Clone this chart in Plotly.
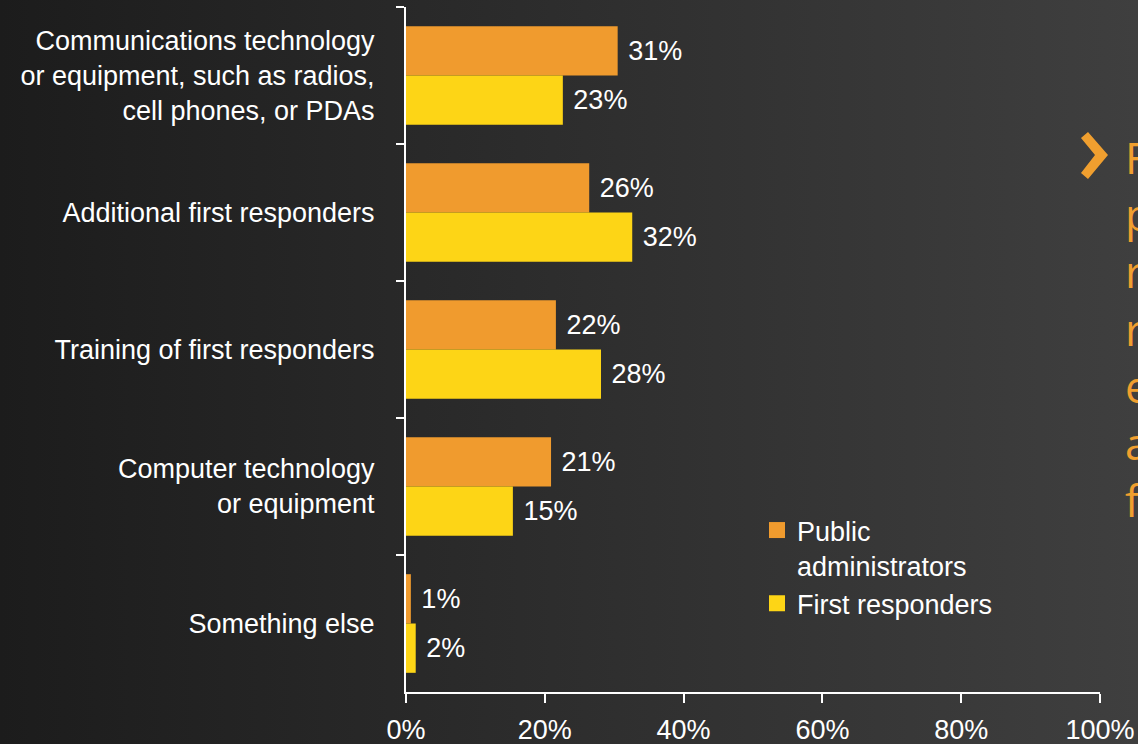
import base64
import plotly.graph_objects as go

# chart values
categories = [
    "Communications technology<br>or equipment, such as radios,<br>cell phones, or PDAs",
    "Additional first responders",
    "Training of first responders",
    "Computer technology<br>or equipment",
    "Something else",
]
public_admin = [30.5, 26.4, 21.6, 20.9, 0.7]
public_admin_labels = ["31%", "26%", "22%", "21%", "1%"]
first_resp = [22.6, 32.6, 28.1, 15.4, 1.4]
first_resp_labels = ["23%", "32%", "28%", "15%", "2%"]
series_names = ["Public<br>administrators", "First responders"]
side_letters = ["F", "p", "r", "r", "e", "a", "f"]

W, H = 1138, 744
L, R, T, B = 406, 38, 7, 52
PW, PH = W - L - R, H - T - B

ORANGE = "#F09B2E"
YELLOW = "#FDD516"
TEXT_ORANGE = "#F09F2F"
FONT = "Arial, Liberation Sans, sans-serif"


def px(x):
    return (x - L) / PW


def py(y):
    return (H - B - y) / PH


svg = (
    f"<svg xmlns='http://www.w3.org/2000/svg' width='{W}' height='{H}' "
    f"viewBox='0 0 {W} {H}' preserveAspectRatio='none'>"
    "<defs><linearGradient id='g' x1='0' y1='0' x2='1' y2='0'>"
    "<stop offset='0' stop-color='#1c1c1c'/><stop offset='1' stop-color='#3f3f3f'/>"
    "</linearGradient></defs>"
    f"<rect width='{W}' height='{H}' fill='url(#g)'/></svg>"
)
bg_src = "data:image/svg+xml;base64," + base64.b64encode(svg.encode()).decode()

fig = go.Figure()

for name, vals, labels, color in [
    (series_names[0], public_admin, public_admin_labels, ORANGE),
    (series_names[1], first_resp, first_resp_labels, YELLOW),
]:
    fig.add_trace(go.Bar(
        y=categories, x=vals, orientation="h", name=name,
        marker=dict(color=color, line=dict(width=0)),
        text=["\u00a0" + t for t in labels], textposition="outside",
        textfont=dict(color="white", size=27, family=FONT),
        constraintext="none", cliponaxis=False, showlegend=False,
    ))
    # legend entry with a bigger square
    fig.add_trace(go.Scatter(
        x=[None], y=[None], mode="markers", name=name,
        marker=dict(symbol="square", size=18, color=color),
    ))

# chevron bullet
chev = [(1081, 138), (1088, 132), (1108, 155), (1088, 179), (1081, 173), (1095, 155)]
path = "M " + " L ".join(f"{px(x):.5f},{py(y):.5f}" for x, y in chev) + " Z"

fig.update_layout(
    width=W, height=H, autosize=False,
    margin=dict(l=L, r=R, t=T, b=B, autoexpand=False),
    paper_bgcolor="#2b2b2b", plot_bgcolor="rgba(0,0,0,0)",
    font=dict(family=FONT, size=27, color="white"),
    barmode="group", bargap=0.28, bargroupgap=0,
    showlegend=True,
    legend=dict(
        x=px(757), y=py(506), xanchor="left", yanchor="top",
        bgcolor="rgba(0,0,0,0)", font=dict(size=27, color="white"),
        valign="top", tracegroupgap=0,
    ),
    xaxis=dict(
        range=[0, 100], dtick=20, ticksuffix="%", showgrid=False, zeroline=False,
        showline=True, linecolor="white", linewidth=2, automargin=False,
        ticks="outside", ticklen=9, tickwidth=2, tickcolor="white",
        ticklabelstandoff=4,
        tickfont=dict(size=27, color="white"),
    ),
    yaxis=dict(
        autorange="reversed", showgrid=False, zeroline=False,
        showline=True, linecolor="white", linewidth=2, automargin=False,
        ticks="outside", ticklen=8, tickwidth=2, tickcolor="white",
        tickson="boundaries", ticklabelstandoff=24,
        tickfont=dict(size=27, color="white"),
    ),
    images=[dict(
        source=bg_src, xref="paper", yref="paper",
        x=px(0), y=py(0), sizex=W / PW, sizey=H / PH,
        xanchor="left", yanchor="top", sizing="stretch", layer="below",
    )],
    shapes=[dict(type="path", path=path, xref="paper", yref="paper",
                 fillcolor=TEXT_ORANGE, line=dict(width=0))],
    annotations=[dict(
        text="<br>".join(side_letters), xref="paper", yref="paper",
        x=px(1123), y=py(125), xanchor="left", yanchor="top", align="left",
        showarrow=False, font=dict(family="Open Sans", size=44, color=TEXT_ORANGE),
    )],
)

fig.write_html(
    "out.html",
    config={"displayModeBar": False},
    post_script=(
        "document.body.style.margin='0';"
        "document.body.style.overflow='hidden';"
        "document.body.style.background='#2e2e2e';"
    ),
)
